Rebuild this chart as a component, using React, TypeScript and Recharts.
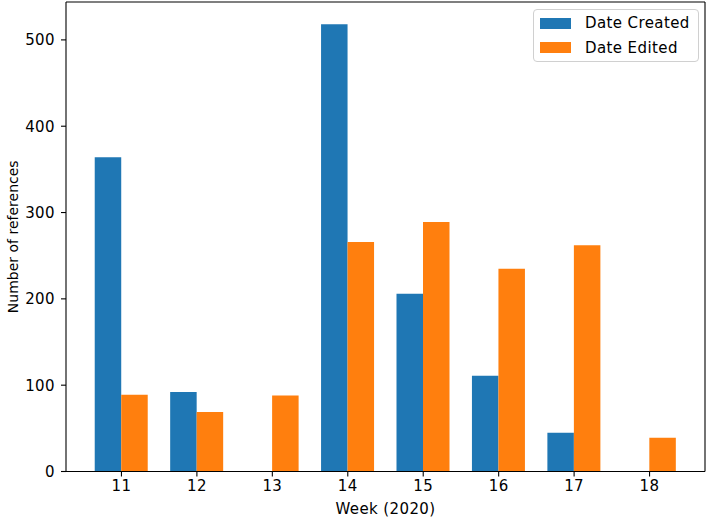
import React from 'react';
import { BarChart, Bar, XAxis, YAxis, Legend, ReferenceLine } from 'recharts';

const weeks = [11, 12, 13, 14, 15, 16, 17, 18];
const dateCreated = [364, 92, 0, 518, 206, 111, 45, 0];
const dateEdited = [89, 69, 88, 266, 289, 235, 262, 39];
const yTicks = [0, 100, 200, 300, 400, 500];

const X_MIN = 10.265;
const X_MAX = 18.735;
const Y_MAX = 543.9;

const data = weeks.map((w, i) => ({ week: w, created: dateCreated[i], edited: dateEdited[i] }));

const FONT = '"DejaVu Sans", sans-serif';
const TICK_STYLE = { fill: '#000', fontSize: 15, letterSpacing: 0.4 };

const renderLegend = (props: any) => {
  const payload = props.payload || [];
  return (
    <div
      style={{
        boxSizing: 'border-box',
        width: 166,
        height: 53,
        border: '1px solid #d0d0d0',
        borderRadius: 4,
        background: 'rgba(255,255,255,0.8)',
        padding: '1px 0 0 6px',
        fontFamily: FONT,
        fontSize: 15,
        letterSpacing: 0.4,
        color: '#000',
      }}
    >
      {payload.map((entry: any) => (
        <div key={entry.value} style={{ display: 'flex', alignItems: 'center', height: 24.5 }}>
          <span style={{ display: 'inline-block', width: 31, height: 11, background: entry.color, marginRight: 14 }} />
          <span>{entry.value}</span>
        </div>
      ))}
    </div>
  );
};

export default function App() {
  return (
    <div style={{ position: 'absolute', left: 0, top: 0, background: '#fff' }}>
      <BarChart
        width={708}
        height={521}
        data={data}
        margin={{ top: 2, right: 3, left: 0, bottom: 0 }}
        barGap={0}
        barSize={26.5}
        style={{ fontFamily: FONT }}
      >
        <XAxis
          dataKey="week"
          type="number"
          domain={[X_MIN, X_MAX]}
          ticks={weeks}
          allowDataOverflow
          height={49.5}
          tick={TICK_STYLE}
          tickSize={5}
          tickMargin={4}
          axisLine={{ stroke: '#000', strokeWidth: 1.1 }}
          tickLine={{ stroke: '#000', strokeWidth: 1.1 }}
          label={{ value: 'Week (2020)', position: 'insideBottom', offset: 7, fill: '#000', fontSize: 15, letterSpacing: 0.4 }}
        />
        <YAxis
          width={66}
          domain={[0, Y_MAX]}
          ticks={yTicks}
          allowDataOverflow
          tick={TICK_STYLE}
          tickSize={5}
          tickMargin={6}
          axisLine={{ stroke: '#000', strokeWidth: 1.1 }}
          tickLine={{ stroke: '#000', strokeWidth: 1.1 }}
          label={{
            value: 'Number of references',
            angle: -90,
            position: 'insideLeft',
            offset: 13,
            fill: '#000',
            fontSize: 14,
            style: { textAnchor: 'middle' },
          }}
        />
        <ReferenceLine y={Y_MAX} stroke="#000" strokeWidth={1.1} />
        <ReferenceLine x={X_MAX} stroke="#000" strokeWidth={1.1} />
        <Legend
          layout="vertical"
          align="center"
          verticalAlign="middle"
          content={renderLegend}
          wrapperStyle={{ position: 'absolute', left: 533, top: 9, width: 166, height: 53 }}
        />
        <Bar dataKey="created" name="Date Created" fill="#1f77b4" isAnimationActive={false} />
        <Bar dataKey="edited" name="Date Edited" fill="#ff7f0e" isAnimationActive={false} />
      </BarChart>
    </div>
  );
}
